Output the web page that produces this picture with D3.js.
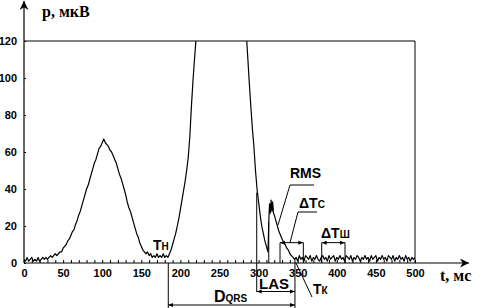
<!DOCTYPE html>
<html lang="ru">
<head>
<meta charset="UTF-8">
<title>ECG</title>
<script src="https://cdn.jsdelivr.net/npm/d3@7"></script>
<style>
  body { margin: 0; background: #fff; }
  svg { display: block; }
  .tick text { font-family: "Liberation Sans", Arial, sans-serif; font-weight: bold; font-size: 11px; fill: #000; }
  .ann { font-family: "Liberation Sans", Arial, sans-serif; font-weight: bold; fill: #000; }
</style>
</head>
<body>
<script>
// signal, ms -> microvolts
var times = [
  0,2,4,6,8,10,12,14,16,18,20,22,24,26,28,30,32,34,36,38,40,42,44,46,48,
  50,52,54,56,58,60,62,64,66,68,70,72,74,76,78,80,82,84,86,88,90,92,94,96,98,
  100,102,104,106,108,110,112,114,116,118,120,122,124,126,128,130,132,134,136,138,
  140,142,144,146,148,150,152,154,156,158,160,162,164,166,168,170,172,174,176,178,
  180,182,184,186,188,190,192,194,196,198,200,202,204,206,208,210,212,214,216,218,
  220,222,226,240,255,270,280,284,286,288,290,292,294,296,298,300,302,304,306,308,
  310,312,313,314,315,316,317,318,319,320,322,324,326,328,330,332,334,336,338,340,
  342,344,346,348,350,352,354,356,358,360,362,364,366,368,370,372,374,376,378,380,
  382,384,386,388,390,392,394,396,398,400,402,404,406,408,410,412,414,416,418,420,
  422,424,426,428,430,432,434,436,438,440,442,444,446,448,450,452,454,456,458,460,
  462,464,466,468,470,472,474,476,478,480,482,484,486,488,490,492,494,496,498,500
];
var rho = [
  2,1,3,1,2,3,1,2,1,3,1,2,3,2,3,2,3,4,3,4,5,4,5,6,6,
  8,9,10,12,13,15,17,18,21,23,26,28,31,34,37,40,42,45,48,51,54,56,59,62,63,
  65,67,65,64,63,61,60,58,56,54,51,48,46,43,40,37,33,30,28,25,
  22,19,16,14,11,9,7,6,5,6,4,5,3,4,3,5,3,4,3,5,
  3,4,3,5,7,10,13,16,20,24,29,34,39,44,50,57,68,84,98,110,
  121,132,160,220,250,210,150,126,112,98,85,73,63,50,40,33,26,20,16,12,
  9,6,22,32,27,34,28,33,27,26,23,20,17,15,13,11,10,8,7,5,
  4,3,2,3,1,4,2,3,1,4,3,2,4,1,3,2,4,2,1,3,
  4,2,3,1,4,2,3,4,1,3,2,4,2,3,1,4,3,2,4,1,
  3,2,4,3,1,3,2,4,2,3,1,4,2,3,4,1,3,2,4,2,
  3,1,4,3,2,4,1,3,2,4,2,3,1,4,2,3,1,3,2,3
];
var xTicks = d3.range(0, 501, 10);
var xLabels = [0, 50, 100, 150, 200, 250, 300, 350, 400, 450, 500];
var yTicks = [0, 20, 40, 60, 80, 100, 120];

// annotation intervals, ms
var dqrs = [184.5, 346.5];
var las = [297.6, 346.5];
var dtc = [327.4, 357.2];
var dtsh = [380.7, 410.5];

var W = 482, H = 308;
var x = d3.scaleLinear().domain([0, 500]).range([24, 415]);
var y = d3.scaleLinear().domain([0, 120]).range([263, 41]);

var svg = d3.select("body").append("svg")
    .attr("width", W)
    .attr("height", H);

var defs = svg.append("defs");
defs.append("clipPath").attr("id", "plot")
    .append("rect")
    .attr("x", x(0)).attr("y", y(120))
    .attr("width", x(500) - x(0)).attr("height", y(0) - y(120) + 2);

["s", "e"].forEach(function(k) {
    defs.append("marker")
        .attr("id", "ar" + k)
        .attr("viewBox", "0 0 10 10")
        .attr("refX", k == "e" ? 10 : 0).attr("refY", 5)
        .attr("markerWidth", 5).attr("markerHeight", 5)
        .attr("markerUnits", "userSpaceOnUse")
        .attr("orient", "auto")
        .append("path")
        .attr("d", k == "e" ? "M0,1L10,5L0,9z" : "M10,1L0,5L10,9z")
        .attr("fill", "#000");
});
defs.append("marker")
    .attr("id", "big")
    .attr("viewBox", "0 0 10 10")
    .attr("refX", 10).attr("refY", 5)
    .attr("markerWidth", 11).attr("markerHeight", 9)
    .attr("markerUnits", "userSpaceOnUse")
    .attr("orient", "auto")
    .append("path").attr("d", "M0,0L10,5L0,10L3,5z").attr("fill", "#000");

// axes
var xaxis = d3.axisBottom(x)
    .tickValues(xTicks)
    .tickSize(-3)
    .tickPadding(6)
    .tickFormat(function(d) { return xLabels.indexOf(d) >= 0 ? d : ""; });
svg.append("g")
    .attr("transform", "translate(0," + y(0) + ")")
    .call(xaxis)
    .call(function(g) { g.select(".domain").remove(); });

var yaxis = d3.axisLeft(y)
    .tickValues(yTicks)
    .tickSize(-2)
    .tickPadding(7);
svg.append("g")
    .attr("transform", "translate(" + x(0) + ",0)")
    .call(yaxis)
    .call(function(g) { g.select(".domain").remove(); });

svg.append("line")
    .attr("x1", x(0)).attr("y1", y(0)).attr("x2", 469).attr("y2", y(0))
    .attr("stroke", "#000").attr("stroke-width", 1.2)
    .attr("marker-end", "url(#big)");
svg.append("line")
    .attr("x1", x(0)).attr("y1", y(0)).attr("x2", x(0)).attr("y2", 1)
    .attr("stroke", "#000").attr("stroke-width", 1.2)
    .attr("marker-end", "url(#big)");

// frame at 120 and 500
svg.append("path")
    .attr("d", "M" + x(0) + "," + y(120) + "H" + x(500) + "V" + y(0))
    .attr("fill", "none").attr("stroke", "#000").attr("stroke-width", 1);

svg.append("text").attr("class", "ann")
    .attr("x", 42).attr("y", 17)
    .style("font-family", "'Liberation Serif', serif").style("font-size", "16px")
    .text("р, мкВ");
svg.append("text").attr("class", "ann")
    .attr("x", 440).attr("y", 281)
    .style("font-family", "'Liberation Serif', serif").style("font-size", "16px")
    .text("t, мс");

// signal
var line = d3.line()
    .x(function(d, i) { return x(times[i]); })
    .y(function(d) { return y(d); });
svg.append("path")
    .datum(rho)
    .attr("clip-path", "url(#plot)")
    .attr("d", line)
    .attr("fill", "none")
    .attr("stroke", "#000")
    .attr("stroke-width", 1.2)
    .attr("stroke-linejoin", "round");

function seg(x1, y1, x2, y2) {
    return svg.append("line")
        .attr("x1", x1).attr("y1", y1).attr("x2", x2).attr("y2", y2)
        .attr("stroke", "#000").attr("stroke-width", 1);
}
function bracket(r, yy) {
    seg(x(r[0]), yy, x(r[1]), yy)
        .attr("marker-start", "url(#ars)")
        .attr("marker-end", "url(#are)");
}

// D_QRS and LAS
seg(x(dqrs[0]), y(0), x(dqrs[0]), 308);
seg(x(dqrs[1]), y(2), x(dqrs[1]), 308);
seg(x(las[0]), y(38), x(las[0]), 292);
seg(x(313), y(0), x(313), y(22));
bracket(dqrs, 305);
bracket(las, 291.5);

// ΔTc and ΔTш
seg(x(dtc[0]), y(0), x(dtc[0]), y(11));
seg(x(dtc[1]), y(0), x(dtc[1]), y(11));
seg(x(dtsh[0]), y(0), x(dtsh[0]), y(11));
seg(x(dtsh[1]), y(0), x(dtsh[1]), y(11));
bracket(dtc, y(11));
bracket(dtsh, y(11));

// leaders
seg(278, 225, 290, 185); seg(290, 185, 314, 185);
seg(290, y(11), 298, 212); seg(298, 212, 317, 212);
seg(296, 263, 312, 297);

function label(xx, yy, main, sub, big, small, pre) {
    var t = svg.append("text").attr("class", "ann")
        .attr("x", xx).attr("y", yy).style("font-size", big + "px");
    if (pre) t.append("tspan").text(pre);
    t.append("tspan").text(main);
    if (sub) t.append("tspan").style("font-size", small + "px").text(sub);
}
label(290, 178, "RMS", "", 14);
label(299, 208, "Т", "С", 14, 10, "Δ");
label(321, 238, "Т", "Ш", 14, 10, "Δ");
label(153, 250, "Т", "Н", 14, 10);
label(313, 294, "Т", "К", 14, 10);
label(259, 289, "LAS", "", 15);
label(214, 302, "D", "QRS", 16, 10);
</script>
</body>
</html>
